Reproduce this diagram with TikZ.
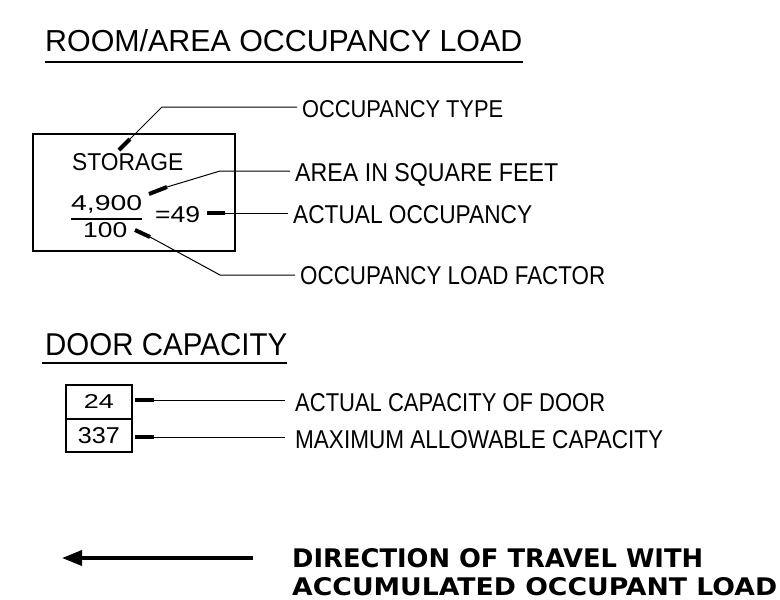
\documentclass[tikz,border=0pt]{standalone}
\usepackage{fontspec}
\setmainfont{Liberation Sans}
\newfontfamily\blockfont{DejaVu Sans}
\usetikzlibrary{arrows.meta}
\newcommand\fitt[3]{\resizebox{#1pt}{#2pt}{#3}}
\tikzset{
  lbl/.style={anchor=base west, inner sep=0pt},
  ctr/.style={inner sep=0pt},
  uline/.style={line width=2.2pt},
  frame/.style={draw, line width=1.8pt, inner sep=0pt},
  stub/.style={line width=4pt, line cap=butt},
  leader/.style={line width=1pt, shorten >=5pt},
  travel/.style={line width=3.5pt, -{Triangle[length=20pt,width=15pt]}}
}
\begin{document}
\begin{tikzpicture}[x=1pt,y=-1pt]
\useasboundingbox (0,0) rectangle (780,600);

% ---- Room / area occupancy load ----
\node[lbl] (title) at (45,51) {\fitt{477}{22}{ROOM/AREA OCCUPANCY LOAD}};
\draw[uline] ([yshift=-11pt]title.base west) -- ([yshift=-11pt,xshift=1pt]title.base east);

\node[frame, minimum width=202pt, minimum height=117pt, anchor=north west] (room) at (32,133) {};
\node[lbl] (storage) at (72,170) {\fitt{111}{17}{STORAGE}};
\node[lbl] (num) at (71,210) {\fitt{71}{15}{4,900}};
\coordinate (barL) at (71,219);
\coordinate (barR) at (142,219);
\draw[line width=1.6pt] (barL) -- (barR);
\node[lbl] (den) at (83,237) {\fitt{44}{15}{100}};
\node[lbl] (res) at (155,222) {\fitt{45}{16}{=49}};

\node[lbl] (typ)  at (302,117) {\fitt{201}{17}{OCCUPANCY TYPE}};
\node[lbl] (area) at (295,181) {\fitt{263}{18}{AREA IN SQUARE FEET}};
\node[lbl] (act)  at (293,223) {\fitt{239}{18}{ACTUAL OCCUPANCY}};
\node[lbl] (lf)   at (300,284) {\fitt{305}{18}{OCCUPANCY LOAD FACTOR}};

\coordinate (t0) at (119,150); \coordinate (t1) at (130,139); \coordinate (t2) at (162,107);
\coordinate (a0) at (149,194); \coordinate (a1) at (167,187); \coordinate (a2) at (220,171);
\coordinate (o0) at (207,213); \coordinate (o1) at (225,213);
\coordinate (f0) at (135,230); \coordinate (f1) at (150,237); \coordinate (f2) at (220,275);

\draw[stub] (t0) -- (t1);
\draw[leader] (t1) -- (t2) -- (t2 -| typ.west);
\draw[stub] (a0) -- (a1);
\draw[leader] (a1) -- (a2) -- (a2 -| area.west);
\draw[stub] (o0) -- (o1);
\draw[leader] (o1) -- (o1 -| act.west);
\draw[stub] (f0) -- (f1);
\draw[leader] (f1) -- (f2) -- (f2 -| lf.west);

% ---- Door capacity ----
\node[lbl] (dtitle) at (45,355) {\fitt{242}{22}{DOOR CAPACITY}};
\draw[uline] ([yshift=-8pt,xshift=-3pt]dtitle.base west) -- ([yshift=-8pt]dtitle.base east);

\node[frame, minimum width=66pt, minimum height=34pt, anchor=north west] (cap1) at (65,384) {\fitt{30}{14}{24}};
\node[frame, minimum width=66pt, minimum height=33pt, anchor=north west] (cap2) at (65,418) {\fitt{42}{16}{337}};

\node[lbl] (adoor)  at (295,411) {\fitt{310}{18}{ACTUAL CAPACITY OF DOOR}};
\node[lbl] (maxcap) at (295,448) {\fitt{368}{18}{MAXIMUM ALLOWABLE CAPACITY}};

\coordinate (d0) at (135,400); \coordinate (d1) at (154,400);
\coordinate (m0) at (135,437); \coordinate (m1) at (154,437);
\draw[stub] (d0) -- (d1);
\draw[leader, shorten >=10pt] (d1) -- (d1 -| adoor.west);
\draw[stub] (m0) -- (m1);
\draw[leader, shorten >=10pt] (m1) -- (m1 -| maxcap.west);

% ---- Direction of travel ----
\coordinate (arrstart) at (253,558);
\coordinate (arrtip) at (62,558);
\draw[travel] (arrstart) -- (arrtip);
\node[lbl] (dir1) at (292,567) {\fitt{411}{19}{\blockfont\bfseries DIRECTION OF TRAVEL WITH}};
\node[lbl] (dir2) at (292,595) {\fitt{485}{18}{\blockfont\bfseries ACCUMULATED OCCUPANT LOAD}};
\end{tikzpicture}
\end{document}
